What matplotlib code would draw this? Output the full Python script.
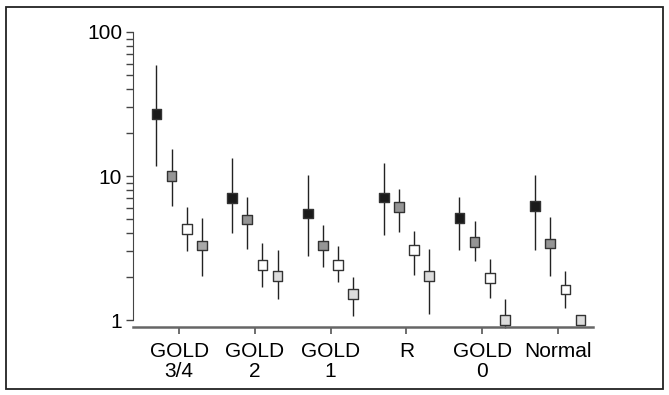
import matplotlib.pyplot as plt
from matplotlib.patches import Rectangle
import numpy as np

plt.rcParams['font.family'] = ['Liberation Sans', 'DejaVu Sans']

groups = ['GOLD\n3/4', 'GOLD\n2', 'GOLD\n1', 'R', 'GOLD\n0', 'Normal']

# median and range for each of the four series (per group)
s1_mid = [26.9, 7.0, 5.5, 7.1, 5.1, 6.2]
s1_lo = [11.7, 4.0, 2.8, 3.9, 3.05, 3.05]
s1_hi = [58.8, 13.4, 10.2, 12.3, 7.1, 10.2]

s2_mid = [10.0, 5.0, 3.3, 6.1, 3.5, 3.4]
s2_lo = [6.15, 3.1, 2.35, 4.1, 2.57, 2.02]
s2_hi = [15.3, 7.1, 4.6, 8.1, 4.9, 5.2]

s3_mid = [4.3, 2.4, 2.4, 3.05, 1.96, 1.63]
s3_lo = [3.0, 1.7, 1.84, 2.04, 1.43, 1.21]
s3_hi = [6.1, 3.45, 3.27, 4.13, 2.67, 2.18]

s4_mid = [3.3, 2.02, 1.51, 2.02, 1.0, 1.0]
s4_lo = [2.02, 1.41, 1.07, 1.11, 0.88, 1.0]
s4_hi = [5.1, 3.05, 1.99, 3.13, 1.40, 1.0]

series = [(s1_mid, s1_lo, s1_hi), (s2_mid, s2_lo, s2_hi),
          (s3_mid, s3_lo, s3_hi), (s4_mid, s4_lo, s4_hi)]
face_colors = [['#1a1a1a'] * 6,
               ['#959595'] * 6,
               ['#ffffff'] * 6,
               ['#a8a8a8', '#dcdcdc', '#dcdcdc', '#dcdcdc', '#dcdcdc', '#dcdcdc']]
offsets = [-0.3, -0.1, 0.1, 0.3]

fig = plt.figure(figsize=(6.69, 3.95), dpi=100)
ax = fig.add_axes([0.199, 0.172, 0.687, 0.747])

x = np.arange(len(groups))
for (mid, lo, hi), cols, off in zip(series, face_colors, offsets):
    mid = np.array(mid)
    yerr = [mid - np.array(lo), np.array(hi) - mid]
    ax.errorbar(x + off, mid, yerr=yerr, fmt='none', ecolor='#222222',
                elinewidth=1.0, capsize=0, clip_on=False, zorder=2)
    ax.scatter(x + off, mid, marker='s', s=49, c=cols, edgecolors='#333333',
               linewidths=1.0, clip_on=False, zorder=3)

ax.set_yscale('log')
ax.set_ylim(0.894, 100)
ax.set_xlim(-0.607, 5.46)
ax.set_yticks([1, 10, 100])
ax.set_yticklabels(['1', '10', '100'])
minor = [m * d for d in (1, 10) for m in range(2, 10)]
ax.set_yticks(minor, minor=True)
ax.set_yticklabels([], minor=True)
ax.set_xticks(x)
ax.set_xticklabels(groups, linespacing=1.05)

for s in ['top', 'right']:
    ax.spines[s].set_visible(False)
ax.spines['left'].set_bounds(1, 100)
ax.spines['left'].set_edgecolor('#444444')
ax.spines['bottom'].set_edgecolor('#666666')
ax.spines['bottom'].set_linewidth(1.8)

ax.tick_params(axis='y', which='both', direction='out', length=5, width=1,
               color='#444444', labelsize=15, pad=3)
ax.tick_params(axis='x', direction='out', length=5, width=1.2,
               color='#555555', labelsize=15, pad=6)

fig.add_artist(Rectangle((0.009, 0.015), 0.982, 0.968, transform=fig.transFigure,
                         fill=False, edgecolor='#222222', linewidth=1.3))

fig.savefig('out.png', dpi=100)
